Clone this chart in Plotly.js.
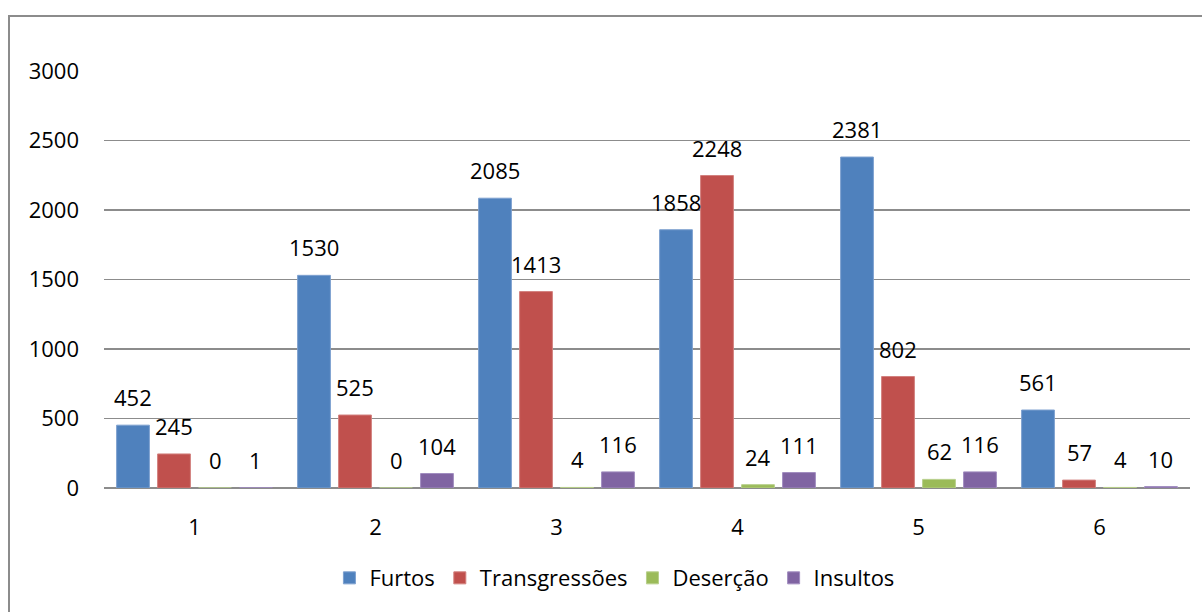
<!DOCTYPE html>
<html>
<head>
<meta charset="utf-8">
<script src="https://cdn.plot.ly/plotly-3.0.1.min.js"></script>
<style>
html,body{margin:0;padding:0;background:#fff;}
#frame{position:absolute;left:8px;top:15px;width:1300px;height:700px;border-left:2px solid #8c8c8c;border-top:2px solid #8c8c8c;}
#chart{position:absolute;left:0;top:0;width:1202px;height:612px;}
</style>
</head>
<body>
<div id="frame"></div>
<div id="chart"></div>
<script>
const categories = [1, 2, 3, 4, 5, 6];
const seriesNames = ["Furtos", "Transgressões", "Deserção", "Insultos"];
const furtos = [452, 1530, 2085, 1858, 2381, 561];
const transgressoes = [245, 525, 1413, 2248, 802, 57];
const desercao = [0, 0, 4, 24, 62, 4];
const insultos = [1, 104, 116, 111, 116, 10];
const yTicks = [0, 500, 1000, 1500, 2000, 2500, 3000];

const series = [furtos, transgressoes, desercao, insultos];
const colors = ["#4F81BD", "#C0504D", "#9BBB59", "#8064A2"];
const edges = ["#7DA0CF", "#D2807E", "#B7CF8A", "#A08CBF"];
const FONT = "Open Sans, Noto Sans, sans-serif";
const bargap = 0.094, bargroupgap = 0.2;
const slot = (1 - bargap) / series.length;

const traces = series.map((vals, i) => ({
  type: "bar",
  name: seriesNames[i],
  x: categories,
  y: vals,
  marker: {color: colors[i], line: {color: edges[i], width: 1}},
  hoverinfo: "none"
}));

const annotations = [];
series.forEach((vals, i) => {
  const off = (i - (series.length - 1) / 2) * slot;
  vals.forEach((v, j) => {
    annotations.push({
      x: categories[j] + off, y: v, xref: "x", yref: "y",
      text: String(v), showarrow: false, yanchor: "middle", yshift: 28,
      font: {family: FONT, size: 22, color: "#000"}
    });
  });
});

const layout = {
  width: 1202, height: 612,
  margin: {l: 104, r: 12, t: 71, b: 124},
  paper_bgcolor: "rgba(0,0,0,0)",
  plot_bgcolor: "rgba(0,0,0,0)",
  barmode: "group",
  bargap: bargap,
  bargroupgap: bargroupgap,
  showlegend: true,
  legend: {
    orientation: "h", x: 0.47, xanchor: "center", y: -0.216, yanchor: "middle",
    font: {family: FONT, size: 22, color: "#000"}, traceorder: "normal"
  },
  xaxis: {
    range: [0.5, 6.5], tickvals: categories, ticktext: categories.map(String),
    showgrid: false, zeroline: false, showline: false, ticks: "",
    ticklabelstandoff: 24,
    tickfont: {family: FONT, size: 22, color: "#000"}
  },
  yaxis: {
    range: [0, 3000], tickvals: yTicks, ticktext: yTicks.map(String),
    showgrid: true, gridcolor: "#8c8c8c", gridwidth: 1.5,
    zeroline: true, zerolinecolor: "#8c8c8c", zerolinewidth: 2,
    showline: false, ticks: "", ticklabelstandoff: 24,
    tickfont: {family: FONT, size: 22, color: "#000"}
  },
  annotations: annotations,
  font: {family: FONT}
};

Plotly.newPlot("chart", traces, layout, {displayModeBar: false, staticPlot: true});
</script>
</body>
</html>
